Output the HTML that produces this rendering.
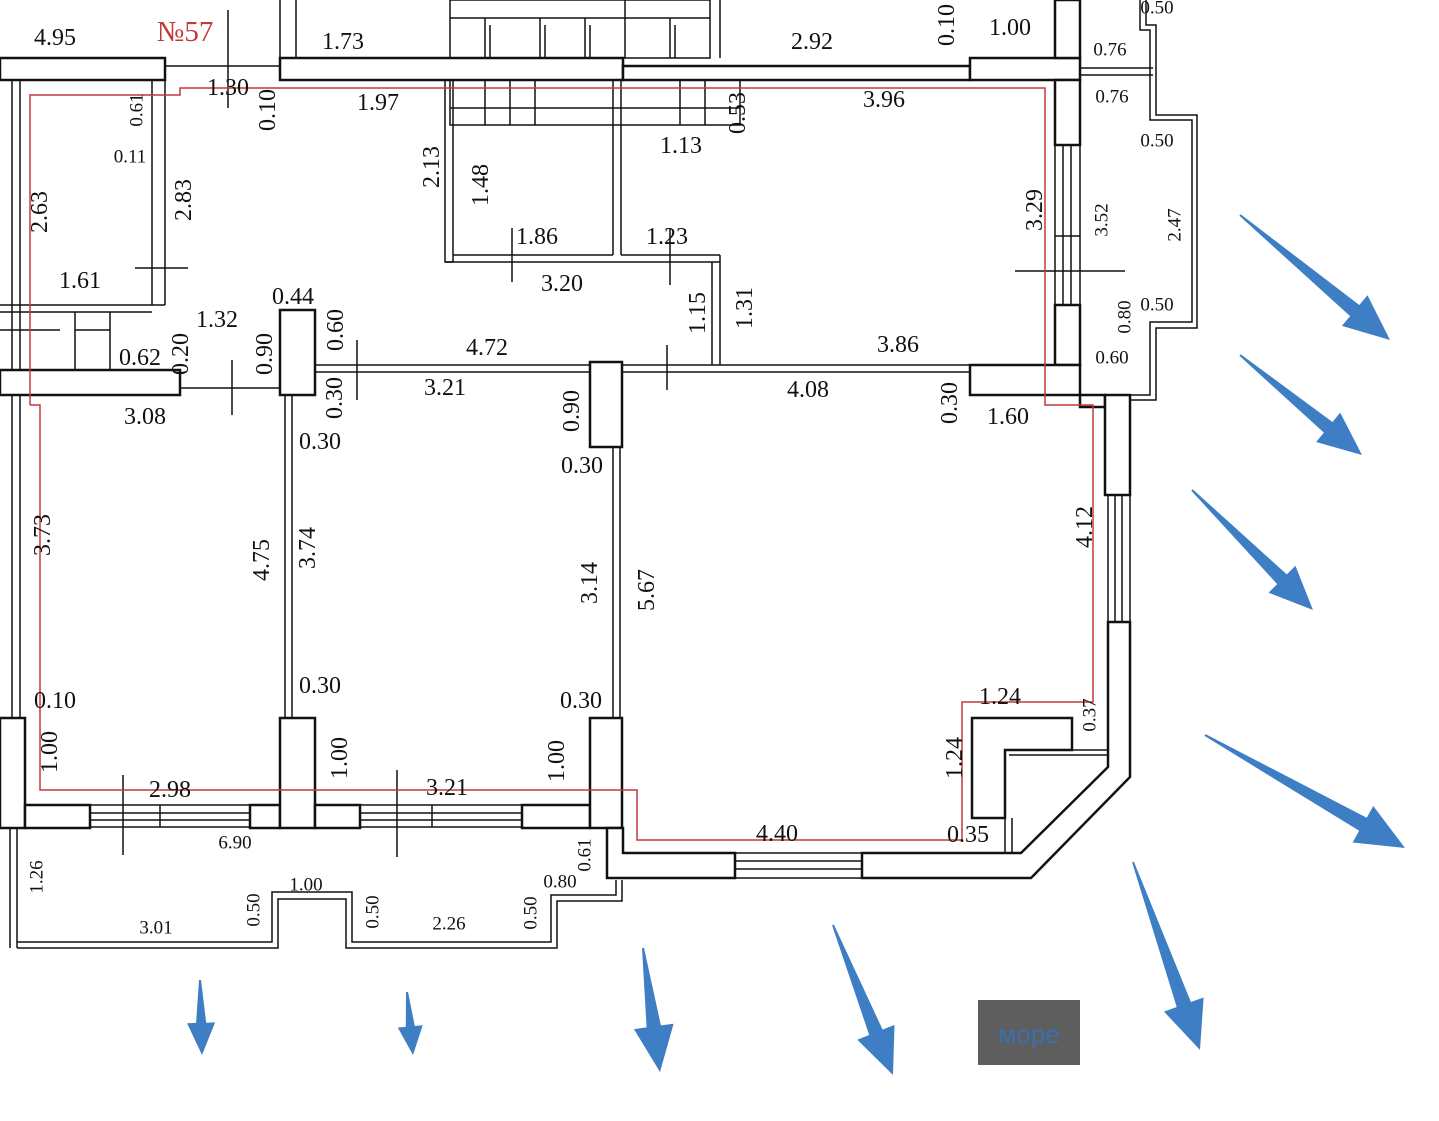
<!DOCTYPE html>
<html><head><meta charset="utf-8"><style>
html,body{margin:0;padding:0;background:#fff;}
svg{display:block}
text{font-family:"Liberation Serif",serif;font-size:24px;fill:#111;}
.s{font-size:19px}
</style></head><body>
<svg id="svg" width="1439" height="1121" viewBox="0 0 1439 1121" xmlns="http://www.w3.org/2000/svg">
<g fill="none" stroke="#111" stroke-width="1.5">
<!-- upper window grids -->
<rect x="450" y="0" width="260" height="58"/>
<line x1="450" y1="18" x2="710" y2="18"/><line x1="485" y1="18" x2="485" y2="58"/><line x1="540" y1="18" x2="540" y2="58"/><line x1="585" y1="18" x2="585" y2="58"/><line x1="625" y1="0" x2="625" y2="58"/><line x1="670" y1="18" x2="670" y2="58"/>
<line x1="490" y1="25" x2="490" y2="58"/><line x1="545" y1="25" x2="545" y2="58"/><line x1="590" y1="25" x2="590" y2="58"/><line x1="675" y1="25" x2="675" y2="58"/>
<rect x="450" y="80" width="290" height="45"/>
<line x1="485" y1="80" x2="485" y2="125"/><line x1="510" y1="80" x2="510" y2="125"/><line x1="535" y1="80" x2="535" y2="125"/><line x1="680" y1="80" x2="680" y2="125"/><line x1="705" y1="80" x2="705" y2="125"/>
<line x1="450" y1="108" x2="740" y2="108"/>
<line x1="280" y1="0" x2="280" y2="58"/><line x1="296" y1="0" x2="296" y2="58"/>
<line x1="720" y1="0" x2="720" y2="58"/><line x1="1070" y1="0" x2="1070" y2="58"/>
<!-- central block -->
<rect x="445" y="80" width="8" height="182"/>
<line x1="445" y1="262" x2="720" y2="262"/><line x1="453" y1="255" x2="613" y2="255"/>
<line x1="613" y1="80" x2="613" y2="255"/><line x1="621" y1="80" x2="621" y2="255"/>
<line x1="621" y1="255" x2="720" y2="255"/>
<line x1="712" y1="262" x2="712" y2="365"/><line x1="720" y1="255" x2="720" y2="365"/>
<!-- bathroom left -->
<line x1="152" y1="80" x2="152" y2="305"/><line x1="165" y1="80" x2="165" y2="305"/>
<line x1="0" y1="305" x2="165" y2="305"/><line x1="0" y1="312" x2="152" y2="312"/>
<line x1="110" y1="312" x2="110" y2="370"/><line x1="75" y1="312" x2="75" y2="370"/><line x1="75" y1="330" x2="110" y2="330"/>
<line x1="0" y1="330" x2="60" y2="330"/>
<line x1="165" y1="58" x2="165" y2="80"/><line x1="280" y1="58" x2="280" y2="80"/>
<line x1="165" y1="66" x2="280" y2="66"/>
<!-- interior horizontal -->
<line x1="315" y1="365" x2="590" y2="365"/><line x1="315" y1="372" x2="590" y2="372"/>
<line x1="622" y1="365" x2="970" y2="365"/><line x1="622" y1="372" x2="970" y2="372"/>
<line x1="180" y1="370" x2="180" y2="395"/>
<line x1="180" y1="388" x2="280" y2="388"/>
<!-- interior verticals -->
<line x1="285" y1="395" x2="285" y2="718"/><line x1="292" y1="395" x2="292" y2="718"/>
<line x1="613" y1="447" x2="613" y2="718"/><line x1="620" y1="447" x2="620" y2="718"/>
<!-- left outer -->
<line x1="12" y1="80" x2="12" y2="370"/><line x1="20" y1="80" x2="20" y2="370"/>
<line x1="12" y1="395" x2="12" y2="718"/><line x1="20" y1="395" x2="20" y2="718"/>
<line x1="10" y1="828" x2="10" y2="948"/><line x1="17" y1="828" x2="17" y2="948"/>
<!-- bottom windows -->
<rect x="90" y="805" width="160" height="22"/><line x1="90" y1="813" x2="250" y2="813"/><line x1="90" y1="820" x2="250" y2="820"/><line x1="160" y1="805" x2="160" y2="827"/>
<rect x="360" y="805" width="162" height="22"/><line x1="360" y1="813" x2="522" y2="813"/><line x1="360" y1="820" x2="522" y2="820"/><line x1="432" y1="805" x2="432" y2="827"/>
<!-- lower balcony -->
<polyline points="17,942 272,942 272,892 352,892 352,942 551,942 551,895 616,895 616,880"/>
<polyline points="17,948 278,948 278,899 346,899 346,948 557,948 557,901 622,901 622,880"/>
<!-- right windows -->
<rect x="1055" y="145" width="25" height="160"/><line x1="1063" y1="145" x2="1063" y2="305"/><line x1="1071" y1="145" x2="1071" y2="305"/><line x1="1055" y1="236" x2="1080" y2="236"/>
<rect x="1108" y="495" width="22" height="127"/><line x1="1115" y1="495" x2="1115" y2="622"/><line x1="1122" y1="495" x2="1122" y2="622"/>
<rect x="735" y="853" width="127" height="25"/><line x1="735" y1="861" x2="862" y2="861"/><line x1="735" y1="869" x2="862" y2="869"/>
<line x1="1080" y1="68" x2="1153" y2="68"/><line x1="1080" y1="75" x2="1153" y2="75"/>
<!-- right balcony -->
<polyline points="1140,0 1140,30 1150,30 1150,120 1192,120 1192,322 1150,322 1150,395 1130,395"/>
<polyline points="1146,0 1146,25 1156,25 1156,115 1197,115 1197,328 1156,328 1156,400 1130,400"/>
<line x1="1009" y1="750" x2="1108" y2="750"/><line x1="1009" y1="755" x2="1108" y2="755"/>
<line x1="1005" y1="818" x2="1005" y2="853"/><line x1="1012" y1="818" x2="1012" y2="853"/>
<!-- dimension ticks -->
<line x1="228" y1="10" x2="228" y2="108"/><line x1="135" y1="268" x2="188" y2="268"/>
<line x1="512" y1="228" x2="512" y2="282"/><line x1="670" y1="228" x2="670" y2="285"/>
<line x1="1015" y1="271" x2="1125" y2="271"/><line x1="357" y1="340" x2="357" y2="400"/>
<line x1="667" y1="345" x2="667" y2="390"/><line x1="232" y1="360" x2="232" y2="415"/>
<line x1="123" y1="775" x2="123" y2="855"/><line x1="397" y1="770" x2="397" y2="857"/>
</g>
<g fill="#fff" stroke="#111" stroke-width="2.5">
<rect x="0" y="58" width="165" height="22"/>
<rect x="280" y="58" width="343" height="22"/>
<rect x="623" y="66" width="347" height="14"/>
<rect x="970" y="58" width="110" height="22"/>
<rect x="1055" y="0" width="25" height="58"/>
<rect x="1055" y="80" width="25" height="65"/>
<rect x="1055" y="305" width="25" height="60"/>
<rect x="970" y="365" width="110" height="30"/>
<rect x="1080" y="395" width="25" height="12"/>
<rect x="1105" y="395" width="25" height="100"/>
<rect x="0" y="370" width="180" height="25"/>
<rect x="280" y="310" width="35" height="85"/>
<rect x="590" y="362" width="32" height="85"/>
<rect x="0" y="718" width="25" height="110"/>
<rect x="25" y="805" width="65" height="23"/>
<rect x="250" y="805" width="30" height="23"/>
<rect x="280" y="718" width="35" height="110"/>
<rect x="315" y="805" width="45" height="23"/>
<rect x="522" y="805" width="68" height="23"/>
<rect x="590" y="718" width="32" height="110"/>
<polygon points="607,828 623,828 623,853 735,853 735,878 607,878"/>
<polygon points="862,853 1021,853 1108,767 1108,622 1130,622 1130,777 1031,878 862,878"/>
<polygon points="972,718 1072,718 1072,750 1005,750 1005,818 972,818"/>
</g>
<polyline fill="none" stroke="#c0393b" stroke-width="1.5" points="30,405 30,95 180,95 180,88 1045,88 1045,405 1093,405 1093,702 962,702 962,840 637,840 637,790 40,790 40,405 30,405"/>
<g text-anchor="middle" dominant-baseline="central">
<text x="55" y="38">4.95</text><text x="185" y="32" style="fill:#c0393b;font-size:29px">№57</text>
<text x="343" y="42">1.73</text><text x="812" y="42">2.92</text><text x="1010" y="28">1.00</text>
<text x="1157" y="8" class="s">0.50</text><text x="1110" y="50" class="s">0.76</text><text x="1112" y="97" class="s">0.76</text>
<text x="1157" y="141" class="s">0.50</text><text x="1157" y="305" class="s">0.50</text><text x="1112" y="358" class="s">0.60</text>
<text x="228" y="88">1.30</text><text x="378" y="103">1.97</text><text x="884" y="100">3.96</text>
<text x="681" y="146">1.13</text><text x="130" y="157" class="s">0.11</text><text x="537" y="237">1.86</text>
<text x="667" y="237">1.23</text><text x="562" y="284">3.20</text><text x="80" y="281">1.61</text>
<text x="293" y="297">0.44</text><text x="217" y="320">1.32</text><text x="140" y="358">0.62</text>
<text x="487" y="348">4.72</text><text x="898" y="345">3.86</text><text x="445" y="388">3.21</text>
<text x="808" y="390">4.08</text><text x="145" y="417">3.08</text><text x="1008" y="417">1.60</text>
<text x="320" y="442">0.30</text><text x="582" y="466">0.30</text><text x="320" y="686">0.30</text>
<text x="55" y="701">0.10</text><text x="581" y="701">0.30</text><text x="1000" y="697">1.24</text>
<text x="170" y="790">2.98</text><text x="447" y="788">3.21</text><text x="777" y="834">4.40</text>
<text x="968" y="835">0.35</text><text x="235" y="843" class="s">6.90</text><text x="306" y="885" class="s">1.00</text>
<text x="560" y="882" class="s">0.80</text><text x="156" y="928" class="s">3.01</text><text x="449" y="924" class="s">2.26</text>
</g>
<g text-anchor="middle" dominant-baseline="central" id="rot"></g>
<rect x="978" y="1000" width="102" height="65" fill="#5e5e5e"/>
<text x="1029" y="1034" text-anchor="middle" dominant-baseline="central" style="font-family:'Liberation Sans',sans-serif;font-size:26px;fill:#3b6fb3">море</text>
<g id="arrows" fill="#3e7ec4"></g>
</svg>
<script>
var R=[["0.10",947,25],["0.10",268,110],["0.61",137,110,1],["0.53",738,113],["2.13",432,167],["1.48",481,185],["2.83",184,200],["2.63",40,212],["3.29",1035,210],["3.52",1102,220,1],["2.47",1175,225,1],["1.15",698,313],["1.31",745,308],["0.60",336,330],["0.90",265,354],["0.20",181,354],["0.80",1125,317,1],["0.30",335,398],["0.90",572,411],["0.30",950,403],["3.73",43,535],["4.12",1085,527],["4.75",262,560],["3.74",308,548],["3.14",590,583],["5.67",647,590],["1.00",50,752],["1.00",340,758],["1.00",557,761],["1.24",955,758],["0.37",1090,715,1],["0.61",585,855,1],["1.26",37,877,1],["0.50",254,910,1],["0.50",373,912,1],["0.50",531,913,1]];
var ns="http://www.w3.org/2000/svg",g=document.getElementById("rot");
R.forEach(function(r){var t=document.createElementNS(ns,"text");t.setAttribute("x",r[1]);t.setAttribute("y",r[2]);t.setAttribute("transform","rotate(-90 "+r[1]+" "+r[2]+")");if(r[3])t.setAttribute("class","s");t.textContent=r[0];g.appendChild(t);});
var A=[[1240,215,1390,340,40],[1240,355,1362,455,38],[1192,490,1313,610,38],[1205,735,1405,848,42],[1133,862,1200,1050,42],[200,980,202,1055,28],[407,992,413,1055,25],[643,948,660,1072,40],[833,925,893,1075,40]];
var ag=document.getElementById("arrows");
A.forEach(function(a){var x1=a[0],y1=a[1],x2=a[2],y2=a[3],hw=a[4];var dx=x2-x1,dy=y2-y1,L=Math.sqrt(dx*dx+dy*dy),ux=dx/L,uy=dy/L,px=-uy,py=ux;var hl=hw*1.15;var bx=x2-ux*hl,by=y2-uy*hl;var sw=hw*0.18;
var pts=[[x1+px*1,y1+py*1],[bx+px*sw,by+py*sw],[bx+px*hw/2,by+py*hw/2],[x2,y2],[bx-px*hw/2,by-py*hw/2],[bx-px*sw,by-py*sw],[x1-px*1,y1-py*1]];
var p=document.createElementNS(ns,"polygon");p.setAttribute("points",pts.map(function(q){return q[0].toFixed(1)+","+q[1].toFixed(1)}).join(" "));ag.appendChild(p);});
</script>
</body></html>
